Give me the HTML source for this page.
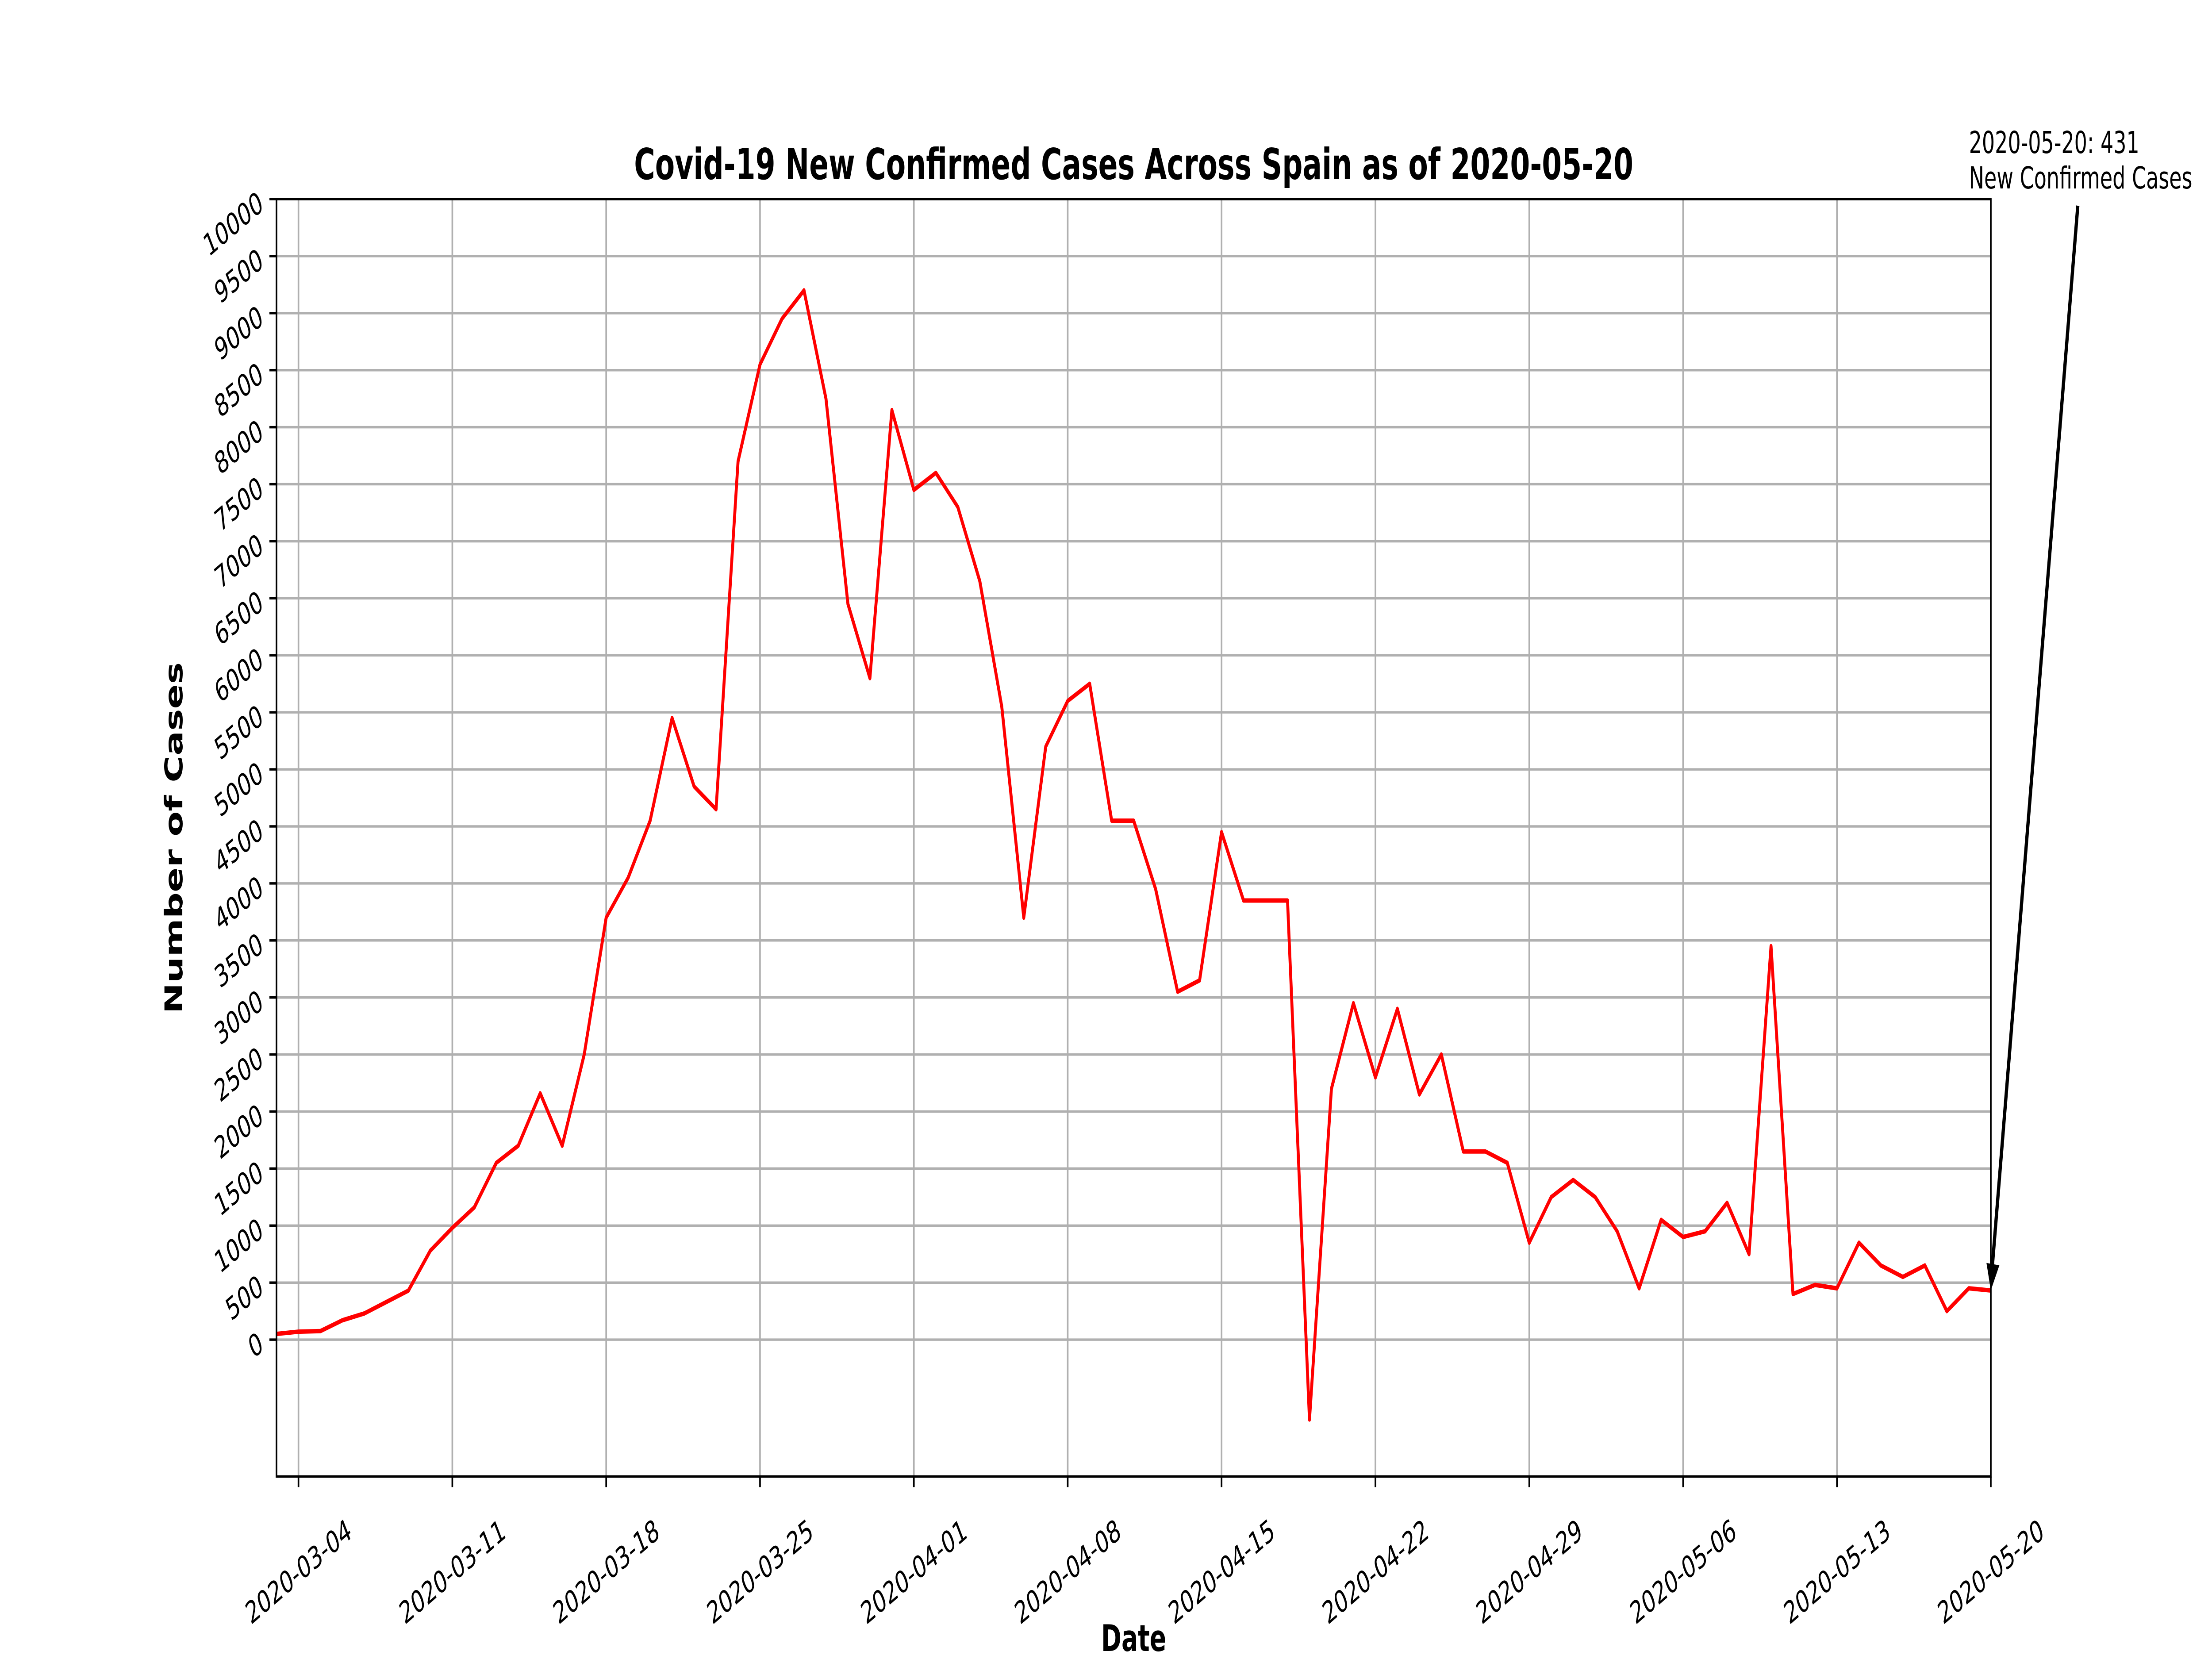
<!DOCTYPE html>
<html><head><meta charset="utf-8"><style>
html,body{margin:0;padding:0;background:#fff;width:100%;height:100%;overflow:hidden;}
svg{display:block;width:100vw;height:100vh;font-family:"DejaVu Sans","Liberation Sans",sans-serif;}
</style></head><body>
<svg id="chart" viewBox="0 0 7500 3750" preserveAspectRatio="none" xmlns="http://www.w3.org/2000/svg">
<rect width="7500" height="3750" fill="#fff"/>
<g id="grid"></g>
<g id="ticks"></g>
<path id="series" fill="none" stroke="#ff0000" stroke-width="10" stroke-linejoin="round"/>
<rect x="937.5" y="450" width="5812.5" height="2887.5" fill="none" stroke="#000" stroke-width="5.5"/>
<text x="3844" y="405" font-size="97" font-weight="bold" text-anchor="middle">Covid-19 New Confirmed Cases Across Spain as of 2020-05-20</text>
<text x="3844" y="3732" font-size="83" font-weight="bold" text-anchor="middle">Date</text>
<text transform="translate(618,1894) rotate(-90)" font-size="83" font-weight="bold" text-anchor="middle">Number of Cases</text>
<g id="annot"></g>
</svg>
<script>
const startDate = "2020-03-03";
const values = [50,70,75,170,230,330,430,780,980,1160,1550,1700,2160,1700,2500,3700,4050,4550,5450,4850,4650,7700,8550,8950,9200,8250,6450,5800,8150,7450,7600,7300,6650,5550,3700,5200,5600,5750,4550,4550,3950,3050,3150,4450,3850,3850,3850,-700,2200,2950,2300,2900,2150,2500,1650,1650,1550,850,1250,1400,1250,950,450,1050,900,950,1200,750,3450,400,480,450,850,650,550,650,250,450,431];
const xTickLabels = ["2020-03-04","2020-03-11","2020-03-18","2020-03-25","2020-04-01","2020-04-08","2020-04-15","2020-04-22","2020-04-29","2020-05-06","2020-05-13","2020-05-20"];
const yTicks = [0,500,1000,1500,2000,2500,3000,3500,4000,4500,5000,5500,6000,6500,7000,7500,8000,8500,9000,9500,10000];
const annotationLabel = ["2020-05-20: 431","New Confirmed Cases"];

const NS="http://www.w3.org/2000/svg";
const L=937.5,R=6750,T=450,B=3337.5;
const DAY=86400000;
const d0=Date.parse(startDate+"T00:00:00Z");
const d1=Date.parse("2020-05-20T00:00:00Z");
const yMin=-1200,yMax=10000;
function xs(ms){return L+(ms-d0)/(d1-d0)*(R-L);}
function xi(i){return xs(d0+i*DAY);}
function ys(v){return B-(v-yMin)/(yMax-yMin)*(B-T);}
function mk(tag,attrs,parent){const e=document.createElementNS(NS,tag);for(const k in attrs)e.setAttribute(k,attrs[k]);parent.appendChild(e);return e;}
const grid=document.getElementById('grid'),ticks=document.getElementById('ticks');
yTicks.forEach(v=>{
  const y=ys(v);
  const g=mk('line',{x1:L,x2:R,y1:y,y2:y,stroke:'#b0b0b0','stroke-width':5.5},grid);
  
  
  const t=mk('line',{x1:L-24,x2:L,y1:y,y2:y,stroke:'#000','stroke-width':5.5},ticks);
  
  
  const tx=mk('text',{x:L-40,y:y+22,'font-size':69,'text-anchor':'end',transform:`rotate(-30 ${L-40} ${y+22})`},ticks);
  tx.textContent=v;
  
  
});
xTickLabels.forEach(s=>{
  const x=xs(Date.parse(s+"T00:00:00Z"));
  const g=mk('line',{x1:x,x2:x,y1:T,y2:B,stroke:'#b0b0b0','stroke-width':5.5},grid);
  
  
  const t=mk('line',{x1:x,x2:x,y1:B,y2:B+24,stroke:'#000','stroke-width':5.5},ticks);
  
  
  const cy=B+215;
  const tx=mk('text',{x:x,y:cy+24,'font-size':69,'text-anchor':'middle',transform:`rotate(-30 ${x} ${cy})`},ticks);
  tx.textContent=s;
  
  
});
document.getElementById('series').setAttribute('d',values.map((v,i)=>(i?'L':'M')+xi(i).toFixed(1)+','+ys(v).toFixed(1)).join(''));
const an=document.getElementById('annot');
const lx=xi(values.length-1),ly=ys(values[values.length-1]);
const ax=7045,ay=465;
const ln=mk('line',{x1:ax,y1:ay,x2:lx+4,y2:ly-45,stroke:'#000','stroke-width':11},an);


const ang=Math.atan2(ly-ay,lx-ax);
const hl=60,hw=22;
const bx=lx-hl*Math.cos(ang),by=ly-hl*Math.sin(ang);
const hd=mk('polygon',{points:`${lx},${ly} ${bx-hw*Math.sin(ang)},${by+hw*Math.cos(ang)} ${bx+hw*Math.sin(ang)},${by-hw*Math.cos(ang)}`,fill:'#000'},an);


annotationLabel.forEach((s,i)=>{
  const t=mk('text',{x:6676,y:346+i*80,'font-size':69},an);
  t.textContent=s;
  
  
});
</script>
</body></html>
